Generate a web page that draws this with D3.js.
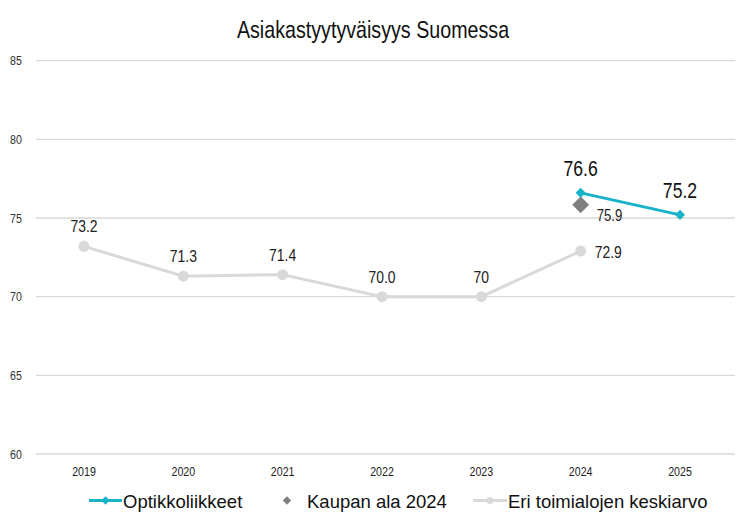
<!DOCTYPE html>
<html>
<head>
<meta charset="utf-8">
<script src="https://cdn.jsdelivr.net/npm/d3@7"></script>
<style>
  body { margin: 0; background: #fff; }
  svg { font-family: "Liberation Sans", Arial, sans-serif; }
</style>
</head>
<body>
<svg></svg>
<script>
// kaavion tiedot
let vuodet = ["2019", "2020", "2021", "2022", "2023", "2024", "2025"];
let optikko = [{ v: "2024", y: 76.6 }, { v: "2025", y: 75.2 }];
let kauppa = [{ v: "2024", y: 75.9 }];
let keskiarvo = [73.2, 71.3, 71.4, 70.0, 70.0, 72.9];
let keskiarvoLabels = ["73.2", "71.3", "71.4", "70.0", "70", "72.9"];
let yTicks = [60, 65, 70, 75, 80, 85];

let svgWidth = 746;
let svgHeight = 532;
let kapea = 0.82; // kapea fontti (Arial Narrow -tyyli)

let svg = d3.select("svg")
  .attr("width", svgWidth)
  .attr("height", svgHeight);

let x = d3.scalePoint().domain(vuodet).range([84, 680]);
let y = d3.scaleLinear().domain([60, 85]).range([454, 60.7]);

let teal = "#17b3c8";
let harmaa = "#7f7f7f";
let vaalea = "#d9d9d9";

// tekstit kavennetaan skaalaamalla vaakasuunnassa
function teksti(sel, fx, fy) {
  return sel.append("text")
    .attr("transform", (d, i) => "translate(" + fx(d, i) + "," + fy(d, i) + ") scale(" + kapea + ",1)");
}

// otsikko
teksti(svg.datum(null), () => 373, () => 38)
  .attr("text-anchor", "middle")
  .attr("font-size", 24)
  .attr("fill", "#111")
  .text("Asiakastyytyväisyys Suomessa");

// vaakaviivat
svg.selectAll(".grid")
  .data(yTicks)
  .enter()
  .append("line")
  .attr("x1", 36).attr("x2", 735)
  .attr("y1", d => y(d)).attr("y2", d => y(d))
  .attr("stroke", "#d9d9d9")
  .attr("stroke-width", 1.3);

teksti(svg.selectAll(".ylab").data(yTicks).enter(), () => 16, d => y(d) + 4.5)
  .attr("text-anchor", "middle")
  .attr("font-size", 13)
  .attr("fill", "#333")
  .text(d => d);

teksti(svg.selectAll(".xlab").data(vuodet).enter(), d => x(d), () => 476)
  .attr("text-anchor", "middle")
  .attr("font-size", 13)
  .attr("fill", "#222")
  .text(d => d);

// keskiarvo
let kData = keskiarvo.map((d, i) => ({ v: vuodet[i], y: d, l: keskiarvoLabels[i] }));
let line = d3.line().x(d => x(d.v)).y(d => y(d.y));

svg.append("path")
  .datum(kData)
  .attr("d", line)
  .attr("fill", "none")
  .attr("stroke", vaalea)
  .attr("stroke-width", 3);

svg.selectAll(".kpt")
  .data(kData)
  .enter()
  .append("circle")
  .attr("cx", d => x(d.v)).attr("cy", d => y(d.y))
  .attr("r", 5.5)
  .attr("fill", vaalea);

teksti(svg.selectAll(".klab").data(kData).enter(),
    (d, i) => i == 5 ? x(d.v) + 14 : x(d.v),
    (d, i) => i == 5 ? y(d.y) + 7 : y(d.y) - 14)
  .attr("text-anchor", (d, i) => i == 5 ? "start" : "middle")
  .attr("font-size", 17)
  .attr("fill", "#222")
  .text(d => d.l);

// kaupan ala
let diamond = d3.symbol().type(d3.symbolDiamond2);
svg.selectAll(".kaup")
  .data(kauppa)
  .enter()
  .append("path")
  .attr("d", diamond.size(180)())
  .attr("transform", d => "translate(" + x(d.v) + "," + (y(d.y) + 1) + ")")
  .attr("fill", harmaa);

teksti(svg.selectAll(".kauplab").data(kauppa).enter(), d => x(d.v) + 16, d => y(d.y) + 17)
  .attr("font-size", 16)
  .attr("fill", "#222")
  .text(d => d.y.toFixed(1));

// optikkoliikkeet
svg.append("path")
  .datum(optikko)
  .attr("d", line)
  .attr("fill", "none")
  .attr("stroke", teal)
  .attr("stroke-width", 3);

svg.selectAll(".opt")
  .data(optikko)
  .enter()
  .append("path")
  .attr("d", diamond.size(65)())
  .attr("transform", d => "translate(" + x(d.v) + "," + y(d.y) + ")")
  .attr("fill", teal);

teksti(svg.selectAll(".optlab").data(optikko).enter(), d => x(d.v), d => y(d.y) - 17)
  .attr("text-anchor", "middle")
  .attr("font-size", 21.5)
  .attr("fill", "#111")
  .text(d => d.y.toFixed(1));

// selite
let legY = 500.5;
let leg = svg.append("g").attr("font-size", 18.5).attr("fill", "#111");
leg.append("line").attr("x1", 89).attr("x2", 122).attr("y1", legY).attr("y2", legY)
  .attr("stroke", teal).attr("stroke-width", 3);
leg.append("path").attr("d", diamond.size(45)())
  .attr("transform", "translate(105.5," + legY + ")").attr("fill", teal);
leg.append("text").attr("x", 123).attr("y", legY + 7).text("Optikkoliikkeet");

leg.append("path").attr("d", diamond.size(45)())
  .attr("transform", "translate(287," + legY + ")").attr("fill", harmaa);
leg.append("text").attr("x", 307).attr("y", legY + 7).text("Kaupan ala 2024");

leg.append("line").attr("x1", 473).attr("x2", 507).attr("y1", legY).attr("y2", legY)
  .attr("stroke", vaalea).attr("stroke-width", 3);
leg.append("circle").attr("cx", 490).attr("cy", legY).attr("r", 3.5).attr("fill", vaalea);
leg.append("text").attr("x", 508).attr("y", legY + 7).text("Eri toimialojen keskiarvo");
</script>
</body>
</html>
